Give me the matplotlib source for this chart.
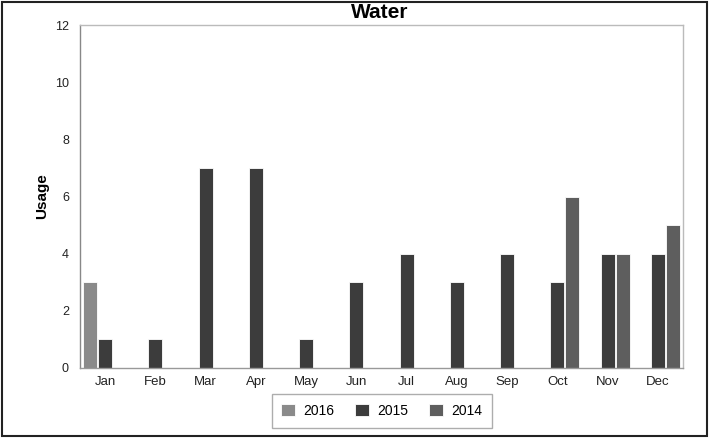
import matplotlib
matplotlib.use("Agg")
import matplotlib.pyplot as plt
from matplotlib.patches import Rectangle
import numpy as np

plt.rcParams["font.family"] = ["Liberation Sans", "DejaVu Sans"]

months = ["Jan", "Feb", "Mar", "Apr", "May", "Jun", "Jul", "Aug", "Sep", "Oct", "Nov", "Dec"]
series_names = ["2016", "2015", "2014"]
usage_2016 = [3, 0, 0, 0, 0, 0, 0, 0, 0, 0, 0, 0]
usage_2015 = [1, 1, 7, 7, 1, 3, 4, 3, 4, 3, 4, 4]
usage_2014 = [0, 0, 0, 0, 0, 0, 0, 0, 0, 6, 4, 5]
colors = ["#8a8a8a", "#3c3c3c", "#5e5e5e"]

fig = plt.figure(figsize=(7.1, 4.38), dpi=100)
ax = fig.add_axes([80/710, 1-368/438, 603/710, 343/438])

x = np.arange(len(months))
w = 0.28
for i, (vals, name, c) in enumerate(zip([usage_2016, usage_2015, usage_2014], series_names, colors)):
    ax.bar(x + (i - 1) * 0.3, vals, width=w, color=c, edgecolor="white", linewidth=0.6, label=name)

ax.set_xlim(-0.5, 11.5)
ax.set_ylim(0, 12)
ax.set_yticks(range(0, 13, 2))
ax.set_xticks(x)
ax.set_xticklabels(months)
ax.tick_params(axis="x", labelsize=9.5, length=0, pad=6, colors="#222222")
ax.tick_params(axis="y", labelsize=9, length=0, pad=8, colors="#222222")
for s in ax.spines.values():
    s.set_color("#bbbbbb")
    s.set_linewidth(1)
ax.spines["left"].set_color("#888888")
ax.spines["bottom"].set_color("#999999")

ax.set_ylabel("Usage", fontsize=11, fontweight="bold", labelpad=4)
fig.text(0.535, 0.972, "Water", ha="center", va="center", fontsize=15, fontweight="bold")

leg = ax.legend(loc="center", bbox_to_anchor=(382/710, 1-411/438), bbox_transform=fig.transFigure,
                ncol=3, fontsize=10, frameon=True, fancybox=False, edgecolor="#999999",
                handlelength=1.0, handleheight=1.0, columnspacing=1.5, borderpad=0.7, handletextpad=0.6)
leg.get_frame().set_linewidth(1)

fig.patches.append(Rectangle((0.003, 0.004), 0.993, 0.992, transform=fig.transFigure,
                             fill=False, edgecolor="#222222", linewidth=1.5))

fig.savefig("out.png", dpi=100)
